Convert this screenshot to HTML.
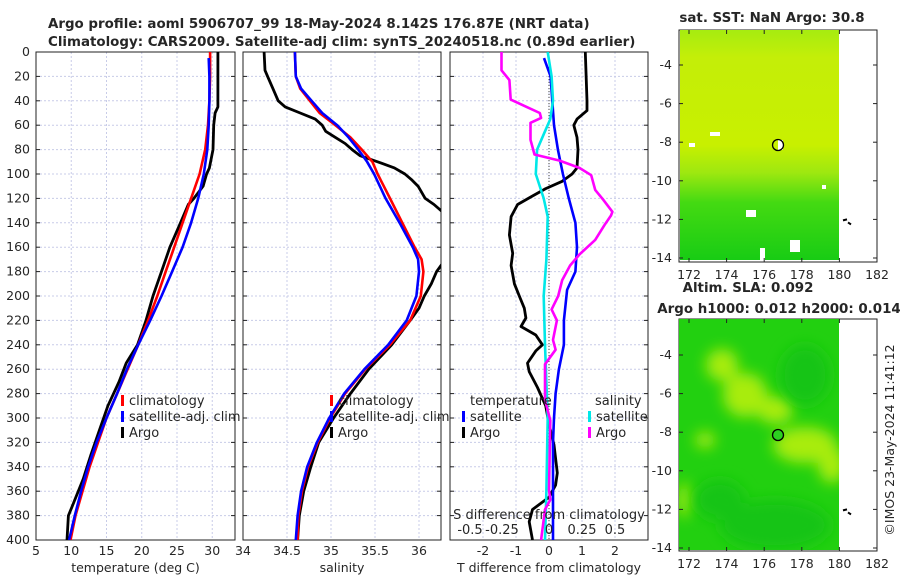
<!DOCTYPE html>
<html><head><meta charset="utf-8"><style>
body{margin:0;background:#fff}
svg text{font-family:"DejaVu Sans","Liberation Sans",sans-serif;fill:#262626}
</style></head><body>
<svg id="fig" width="900" height="580" viewBox="0 0 900 580" xmlns="http://www.w3.org/2000/svg">
<defs>
<clipPath id="c1"><rect x="36" y="52" width="199" height="488"/></clipPath>
<clipPath id="c2"><rect x="243" y="52" width="198" height="488"/></clipPath>
<clipPath id="c3"><rect x="450" y="52" width="198" height="488"/></clipPath>
<linearGradient id="sstg" x1="0" y1="0" x2="0" y2="1">
<stop offset="0" stop-color="#a6ec10"/><stop offset="0.12" stop-color="#c4ee08"/><stop offset="0.5" stop-color="#c8f000"/><stop offset="0.62" stop-color="#9ee810"/><stop offset="0.75" stop-color="#44da12"/><stop offset="1" stop-color="#18cc14"/></linearGradient>
<filter id="blur" x="-50%" y="-50%" width="200%" height="200%"><feGaussianBlur stdDeviation="7"/></filter>
<clipPath id="m2c"><rect x="679" y="319" width="160" height="231"/></clipPath>
</defs>
<g font-size="13.4">
<text x="48" y="28" style="font-weight:bold">Argo profile: aoml 5906707_99 18-May-2024 8.142S 176.87E (NRT data)</text>
<text x="48" y="46" style="font-weight:bold">Climatology: CARS2009. Satellite-adj clim: synTS_20240518.nc (0.89d earlier)</text>
</g>
<g id="panels"></g>
<g>
<rect x="679" y="30" width="198" height="232" fill="#fff" stroke="#222"/>
<rect x="680" y="30" width="159" height="230" fill="url(#sstg)"/>
<rect x="689" y="143" width="6" height="4" fill="#fff"/><rect x="710" y="132" width="10" height="4" fill="#fff"/><rect x="746" y="210" width="10" height="7" fill="#fff"/><rect x="790" y="240" width="10" height="12" fill="#fff"/><rect x="760" y="248" width="5" height="12" fill="#fff"/><rect x="778" y="140" width="5" height="10" fill="#fff"/><rect x="822" y="185" width="4" height="4" fill="#fff"/>
<circle cx="778" cy="145" r="5.5" fill="none" stroke="#000" stroke-width="1.3"/>
<text x="772" y="22" text-anchor="middle" font-size="13.4" style="font-weight:bold">sat. SST: NaN Argo: 30.8</text>
</g>
<g>
<rect x="679" y="319" width="198" height="232" fill="#fff" stroke="#222"/>
<g clip-path="url(#m2c)"><rect x="679" y="319" width="160" height="231" fill="#22d010"/>
<g filter="url(#blur)" fill="#a8ec10"><ellipse cx="722" cy="365" rx="16" ry="16"/><ellipse cx="745" cy="395" rx="22" ry="22"/><ellipse cx="775" cy="410" rx="18" ry="14"/><ellipse cx="805" cy="445" rx="32" ry="18"/><ellipse cx="832" cy="465" rx="14" ry="18"/><ellipse cx="684" cy="500" rx="6" ry="18"/><ellipse cx="705" cy="440" rx="10" ry="8"/></g>
<g filter="url(#blur)" fill="#14c414"><ellipse cx="805" cy="375" rx="25" ry="30"/><ellipse cx="775" cy="525" rx="55" ry="25"/><ellipse cx="720" cy="500" rx="25" ry="20"/></g>
</g>
<circle cx="778" cy="435" r="5.5" fill="#2cd020" stroke="#000" stroke-width="1.3"/>
<text x="748" y="292" text-anchor="middle" font-size="13.4" style="font-weight:bold">Altim. SLA: 0.092</text>
<text x="779" y="313" text-anchor="middle" font-size="13.4" style="font-weight:bold">Argo h1000: 0.012 h2000: 0.014</text>
</g>
<g id="maps"></g>
<text transform="translate(894,440) rotate(-90)" text-anchor="middle" font-size="12.5">©IMOS 23-May-2024 11:41:12</text>
</svg>
<script>
const depthTicks=[0,20,40,60,80,100,120,140,160,180,200,220,240,260,280,300,320,340,360,380,400];
const tTicks=[5,10,15,20,25,30];
const sTicks=[34,34.5,35,35.5,36];
const dTicks=[-2,-1,0,1,2];
const sdTicks=[-0.5,-0.25,0,0.25,0.5];
const tDepthClim=[0,20,40,60,80,100,120,140,160,180,200,220,240,260,280,300,320,340,360,380,400];
const tClim=[29.7,29.7,29.6,29.4,29.0,28.2,27.0,25.8,24.6,23.4,22.2,20.9,19.5,18.0,16.5,15.0,13.8,12.6,11.6,10.6,9.9];
const tDepthSat=[5,20,40,60,80,100,120,140,160,180,200,220,240,260,280,300,320,340,360,380,400];
const tSat=[29.5,29.6,29.6,29.5,29.3,28.8,28.0,27.0,25.8,24.3,22.8,21.2,19.5,17.9,16.5,15.0,13.6,12.4,11.4,10.5,9.7];
const tDepthArgo=[0,45,50,60,80,95,100,110,120,125,140,160,180,200,220,240,255,270,290,310,330,350,370,380,400];
const tArgo=[30.8,30.8,30.4,30.2,30.1,29.6,29.2,28.7,27.4,26.6,25.5,24.0,22.8,21.6,20.6,19.4,17.8,16.8,15.2,14.0,12.8,11.7,10.3,9.6,9.4];
const sDepth=[0,20,30,40,50,60,70,80,90,100,120,140,160,170,180,200,220,240,260,280,300,320,340,360,380,400];
const sClim=[34.59,34.6,34.65,34.76,34.87,35.05,35.22,35.35,35.47,35.53,35.67,35.81,35.95,36.03,36.05,36.02,35.9,35.67,35.39,35.16,34.99,34.85,34.74,34.67,34.63,34.62];
const sSat=[34.59,34.6,34.66,34.78,34.9,35.07,35.2,35.31,35.41,35.49,35.62,35.78,35.93,35.99,36.0,35.97,35.86,35.65,35.38,35.15,34.98,34.84,34.73,34.66,34.62,34.6];
const sDepthArgo=[0,15,20,30,40,45,50,55,60,65,70,75,80,85,90,95,100,105,110,120,125,130,140,160,175,180,190,200,210,220,240,260,280,300,320,340,360,380,400];
const sArgo=[34.24,34.25,34.28,34.34,34.4,34.48,34.65,34.82,34.9,34.94,35.05,35.16,35.24,35.33,35.53,35.72,35.84,35.92,35.99,36.07,36.17,36.25,36.4,36.4,36.25,36.2,36.14,36.06,36.0,35.9,35.69,35.43,35.22,35.03,34.86,34.77,34.69,34.64,34.62];
const dDepthArgoT=[0,40,48,55,60,70,80,95,100,106,112,118,125,135,150,165,175,190,200,210,218,225,232,240,245,255,262,275,290,305,322,345,355,365,375,385,400];
const dArgoT=[1.1,1.15,1.15,0.85,0.75,0.85,0.88,0.85,0.7,0.4,-0.1,-0.5,-0.95,-1.15,-1.2,-1.1,-1.15,-1.05,-0.9,-0.75,-0.7,-0.85,-0.4,-0.2,-0.4,-0.65,-0.6,-0.35,-0.1,0.0,0.15,0.25,0.2,0.0,-0.5,-0.6,-0.5];
const dDepthSatT=[5,20,40,60,80,100,120,140,160,180,195,220,240,260,280,300,320,400];
const dSatT=[-0.15,0.05,0.1,0.15,0.27,0.42,0.6,0.8,0.85,0.8,0.55,0.45,0.45,0.3,0.2,0.15,0.12,0.12];
const dDepthSatS=[0,20,40,55,65,80,100,120,135,170,200,240,300,360,400];
const dSatS=[-0.01,0.02,0.03,0.01,-0.03,-0.09,-0.1,-0.04,-0.01,-0.02,-0.04,-0.03,-0.01,-0.02,-0.03];
const dDepthArgoS=[0,15,23,39,45,50,54,58,72,84,89,95,101,113,121,131,134,142,154,166,175,187,200,211,220,236,244,256,285,302,359,367,375,400];
const dArgoS=[-0.36,-0.36,-0.3,-0.29,-0.17,-0.07,-0.06,-0.14,-0.14,-0.11,0.08,0.23,0.32,0.35,0.41,0.48,0.47,0.42,0.35,0.23,0.16,0.1,0.07,0.02,0.06,0.03,0.05,-0.03,-0.03,0.01,0.0,0.01,-0.03,-0.06];
const lonTicks=[172,174,176,178,180,182];
const latTicks=[-4,-6,-8,-10,-12,-14];

const NS='http://www.w3.org/2000/svg';
const panels=document.getElementById('panels');
function mk(tag,attrs,parent){const e=document.createElementNS(NS,tag);for(const k in attrs)e.setAttribute(k,attrs[k]);(parent||panels).appendChild(e);return e;}
const yD=d=>52+d*1.22;
function panel(x0,w,xs,ticks,fmt,name,xlabel){
  const g=mk('g',{});
  
  
  ticks.forEach(t=>{const x=xs(t);mk('line',{x1:x,x2:x,y1:52,y2:540,stroke:'#c8cce8','stroke-dasharray':'2,2','stroke-width':1},g);
    const tl=mk('text',{x:x,y:555,'text-anchor':'middle','font-size':12.5},g);tl.textContent=fmt(t);
    
    });
  depthTicks.forEach(d=>{const y=yD(d);mk('line',{x1:x0,x2:x0+w,y1:y,y2:y,stroke:'#c8cce8','stroke-dasharray':'2,2','stroke-width':1},g);
    mk('line',{x1:x0,x2:x0+4,y1:y,y2:y,stroke:'#222'},g);mk('line',{x1:x0+w-4,x2:x0+w,y1:y,y2:y,stroke:'#222'},g);});
  mk('rect',{x:x0,y:52,width:w,height:488,fill:'none',stroke:'#222','stroke-width':1},g);
  const xl=mk('text',{x:x0+w/2,y:572,'text-anchor':'middle','font-size':12.5},g);xl.textContent=xlabel;
  
  
  return g;
}
function line(g,xs,vals,depths,color,clip,name,w){
  const p=vals.map((v,i)=>(i?'L':'M')+xs(v).toFixed(1)+','+yD(depths[i]).toFixed(1)).join('');
  const e=mk('path',{d:p,fill:'none',stroke:color,'stroke-width':w||2.6,'stroke-linejoin':'round','clip-path':'url(#'+clip+')'},g);
  
  
}
function legend(g,x,y,color,label){
  mk('rect',{x:x,y:y-10,width:3,height:11,fill:color},g);
  const t=mk('text',{x:x+8,y:y,'font-size':13},g);t.textContent=label;
  
  
}
depthTicks.forEach(d=>{const t=mk('text',{x:30,y:yD(d)+4,'text-anchor':'end','font-size':12.5});t.textContent=d;
  
  });
const xT=v=>36+(v-5)*7.05;
const g1=panel(36,199,xT,tTicks,t=>t,'temperature-panel','temperature (deg C)');
const l34=mk('text',{x:243,y:555,'text-anchor':'middle','font-size':12.5});l34.textContent='34';
line(g1,xT,tArgo,tDepthArgo,'#000','c1','argo-temperature-line',2.8);
line(g1,xT,tClim,tDepthClim,'#ff0000','c1','climatology-temperature-line');
line(g1,xT,tSat,tDepthSat,'#0000ff','c1','satellite-temperature-line');
legend(g1,121,405,'#ff0000','climatology');legend(g1,121,421,'#0000ff','satellite-adj. clim');legend(g1,121,437,'#000','Argo');
const xS=v=>243+(v-34)*88;
const g2=panel(243,198,xS,sTicks.slice(1),t=>t,'salinity-panel','salinity');
line(g2,xS,sArgo,sDepthArgo,'#000','c2','argo-salinity-line',2.8);
line(g2,xS,sClim,sDepth,'#ff0000','c2','climatology-salinity-line');
line(g2,xS,sSat,sDepth,'#0000ff','c2','satellite-salinity-line');
legend(g2,330,405,'#ff0000','climatology');legend(g2,330,421,'#0000ff','satellite-adj. clim');legend(g2,330,437,'#000','Argo');
const xDT=v=>549+v*33, xDS=v=>549+v*132;
const g3=panel(450,198,xDT,dTicks,t=>t,'difference-panel','T difference from climatology');
mk('line',{x1:549,x2:549,y1:52,y2:540,stroke:'#444','stroke-dasharray':'1,2'},g3);
line(g3,xDT,dArgoT,dDepthArgoT,'#000','c3','argo-t-difference-line',2.8);
line(g3,xDT,dSatT,dDepthSatT,'#0000ff','c3','satellite-t-difference-line');
line(g3,xDS,dSatS,dDepthSatS,'#00e8e8','c3','satellite-s-difference-line');
line(g3,xDS,dArgoS,dDepthArgoS,'#ff00ff','c3','argo-s-difference-line');
const lt=mk('text',{x:470,y:405,'font-size':13},g3);lt.textContent='temperature';
legend(g3,462,421,'#0000ff','satellite');legend(g3,462,437,'#000','Argo');
const ls=mk('text',{x:595,y:405,'font-size':13},g3);ls.textContent='salinity';
legend(g3,588,421,'#00e8e8','satellite');legend(g3,588,437,'#ff00ff','Argo');
const sd=mk('text',{x:549,y:519,'text-anchor':'middle','font-size':13},g3);sd.textContent='S difference from climatology';


const sdPos=[470,502,549,582,615];
sdTicks.forEach((v,i)=>{const t=mk('text',{x:sdPos[i],y:534,'text-anchor':'middle','font-size':13},g3);t.textContent=v;
  
  });
const maps=document.getElementById('maps');
function mapAxes(top,latAt4){
  const xL=v=>689+(v-172)*18.8, yL=v=>latAt4+(-4-v)*19.3;
  lonTicks.forEach(v=>{const x=xL(v);mk('line',{x1:x,x2:x,y1:top+232,y2:top+228,stroke:'#222'},maps);mk('line',{x1:x,x2:x,y1:top,y2:top+4,stroke:'#222'},maps);
    const t=mk('text',{x:x,y:top+249,'text-anchor':'middle','font-size':12.5},maps);t.textContent=v;
    
    });
  latTicks.forEach(v=>{const y=yL(v);mk('line',{x1:679,x2:683,y1:y,y2:y,stroke:'#222'},maps);mk('line',{x1:873,x2:877,y1:y,y2:y,stroke:'#222'},maps);
    const t=mk('text',{x:672,y:y+4,'text-anchor':'end','font-size':12.5},maps);t.textContent=v;
    
    });
  mk('path',{d:`M843,${yL(-12)+1}l4,-1 M848,${yL(-12)+3}l3,2`,stroke:'#000','stroke-width':2},maps);
}
mapAxes(30,65);mapAxes(319,355);
</script>
</body></html>
